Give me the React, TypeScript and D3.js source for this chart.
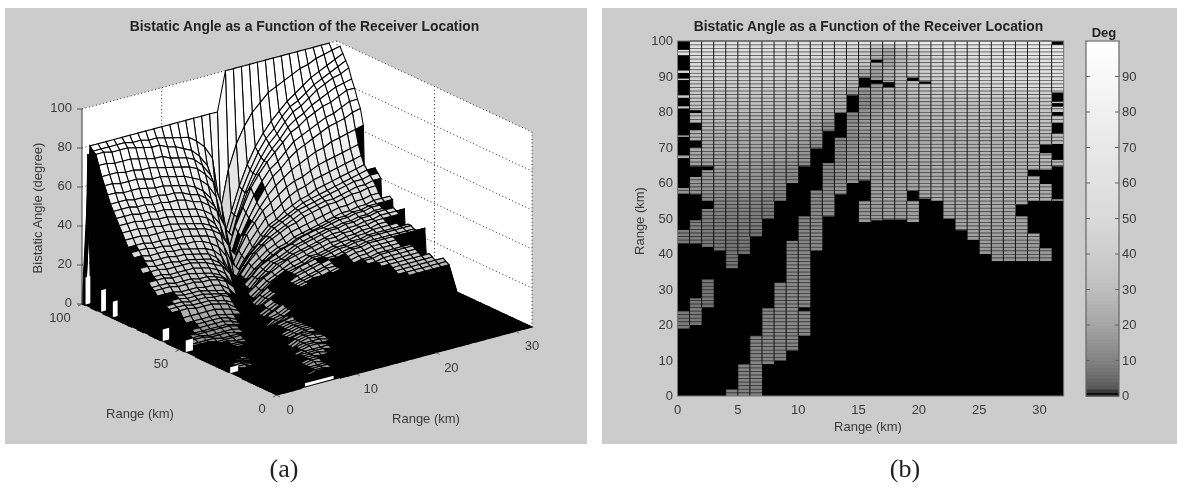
import React from "react";
import * as d3 from "d3";

// ---------- data ----------
const titleText = "Bistatic Angle as a Function of the Receiver Location";
const rangeTicksHeat = [0, 5, 10, 15, 20, 25, 30];
const yTicksHeat = [0, 10, 20, 30, 40, 50, 60, 70, 80, 90, 100];
const barTicks = [0, 10, 20, 30, 40, 50, 60, 70, 80, 90];
const zTicks = [0, 20, 40, 60, 80, 100];
const floorXTicks = [0, 10, 20, 30];
const floorYTicks = [0, 50, 100];

// colour bar: angle -> grey level
const cmapAngle = [0, 1, 2, 5, 10, 20, 30, 40, 50, 60, 70, 80, 90, 100];
const cmapGrey = [0, 30, 85, 105, 130, 165, 190, 205, 218, 225, 232, 240, 248, 255];

// mesh rows in y (km); each row lists the angle at x = 0, 1, 2 ... km
const rowYs = [100,98.5,97,95.5,94,92.5,91,89.5,88,86.5,85,83.5,82,80.5,79,77.5,76,74.5,73,71.5,70,68.5,67,65.5,64,62.5,61,59.5,58,56.5,55,53.5,52,50.5,49,47.5,46,44.5,43,41.5,40,38.5,37,35.5,34,32.5,31,29.5,28,26.5,25,23.5,22,20.5,19,17.5,16,14.5,13,11.5,10,8.5,7,5.5,4,2.5,1,0];
const angleRows = [
[80,80,80,80,80,80,80,80,80,80,80,80,80,80,80,80,80,80,100,100,100,100,100,100,100,100,100,100,100,100,100,100,100],
[79,78,78,78,78,78,77,77,76,76,75,74,73,72,69,65,58,30,50,62,70,76,80,84,86,88,90,92,93,95,96,97,98],
[78,77,77,76,76,76,75,74,73,73,71,70,68,66,62,56,43,16,29,41,51,59,65,70,74,78,81,84,87,89,91,93,95],
[73,72,72,71,71,71,70,69,68,68,66,65,64,62,58,52,40,15,28,40,49,57,63,67,72,76,78,81,84,86,88,90,92],
[68,67,67,67,66,66,65,65,64,63,62,61,60,58,54,49,37,14,28,39,48,55,61,65,70,74,76,79,82,84,86,87,89],
[63,63,63,62,62,62,61,60,60,59,58,57,55,53,49,42,25,20,31,41,48,54,59,63,68,71,73,76,78,80,82,83,84],
[59,59,59,58,58,58,57,56,56,55,54,53,51,48,43,33,12,25,34,43,49,54,58,62,66,68,71,73,75,76,78,80,80],
[55,55,55,55,54,54,53,53,52,52,51,49,48,45,40,31,11,23,32,40,46,51,54,58,62,64,66,68,70,71,73,75,75],
[52,52,52,52,51,51,50,50,49,49,48,46,45,42,38,29,11,22,30,37,43,48,51,55,58,60,62,64,66,67,68,70,71],
[49,49,49,49,48,48,47,47,46,45,44,43,41,38,32,19,14,23,29,35,40,44,47,50,52,54,56,57,59,60,61,62,63],
[46,46,46,46,45,45,44,44,43,42,41,40,38,34,26,9,17,24,29,34,37,40,43,45,46,48,50,51,52,53,54,55,55],
[43,43,43,43,42,42,41,41,40,39,38,37,35,32,24,8,15,21,26,31,33,36,39,41,42,44,45,46,47,48,49,50,50],
[40,40,40,40,39,39,39,38,38,37,36,35,33,30,23,8,14,19,24,28,30,33,35,37,38,40,41,42,43,44,45,46,46],
[37,37,37,37,36,36,36,35,35,34,33,32,30,25,15,10,16,20,24,28,30,32,34,36,37,38,39,40,41,42,43,44,44],
[35,35,35,35,34,34,33,33,32,32,31,29,26,20,7,13,18,22,25,28,30,32,34,35,36,37,38,39,40,41,41,42,42],
[33,33,33,32,32,32,31,31,30,29,28,26,22,13,9,14,19,22,25,27,29,31,33,34,35,36,36,37,38,39,39,40,40],
[31,31,31,30,30,30,29,29,28,27,26,23,18,6,11,16,20,23,25,27,29,30,32,33,34,35,35,36,37,37,38,38,38],
[29,29,29,28,28,28,27,27,26,25,24,21,16,6,10,15,18,21,23,25,27,28,29,30,31,32,33,33,34,34,35,35,35],
[27,27,27,27,26,26,26,26,25,24,22,20,15,6,10,14,17,20,22,23,25,26,27,28,29,30,31,31,32,32,33,33,33],
[25,25,25,25,24,24,24,24,23,22,20,17,10,8,11,15,18,20,22,23,25,26,27,28,29,30,30,31,31,32,32,32,32],
[24,24,24,24,23,23,23,22,21,20,18,14,5,10,13,17,19,21,23,24,26,27,28,28,29,30,30,31,31,32,32,32,32],
[22,22,22,22,21,21,21,20,20,19,17,13,4,9,13,16,19,20,22,24,25,26,27,28,28,29,29,30,30,31,31,32,32],
[21,21,21,21,20,20,20,19,19,18,16,12,4,9,13,16,19,20,22,24,25,26,27,28,28,29,29,30,30,31,31,31,31],
[19,19,19,19,18,18,18,17,17,16,13,8,6,10,14,16,19,20,22,23,24,25,26,27,27,28,28,29,29,30,30,30,30],
[18,18,18,18,17,17,17,16,15,14,10,4,9,12,15,17,19,21,22,23,24,25,26,26,27,27,28,28,29,29,29,29,29],
[17,17,17,17,16,16,16,15,14,13,9,3,8,11,14,16,18,20,21,22,23,24,25,25,26,26,27,27,28,28,28,28,28],
[16,16,16,16,15,15,15,14,14,12,9,3,8,11,14,16,18,19,20,22,22,23,24,25,25,26,26,27,27,27,27,27,27],
[15,15,15,15,14,14,14,13,12,10,6,5,9,12,15,16,18,19,20,22,22,23,24,24,25,25,26,26,26,26,26,26,26],
[14,14,14,14,13,13,13,12,11,8,3,8,11,14,16,17,18,20,21,22,22,23,24,24,25,25,26,26,26,26,26,26,26],
[11,11,11,11,11,11,11,10,9,7,3,8,11,13,15,16,18,19,20,21,22,22,23,24,24,25,25,25,25,25,25,25,25],
[9,9,9,9,9,9,9,8,7,6,2,8,11,13,15,16,18,19,20,21,22,22,23,24,24,25,25,25,25,25,25,25,25],
[8,8,8,8,8,8,8,7,5,4,5,9,11,13,15,16,17,18,19,20,21,21,22,23,23,24,24,24,24,24,24,24,24],
[8,8,7,7,7,7,7,6,4,2,7,10,12,14,15,16,17,18,19,20,20,21,21,22,22,23,23,23,23,23,23,23,23],
[7,7,6,6,6,6,6,5,4,2,7,9,11,13,15,16,17,18,18,19,20,20,20,21,21,22,22,22,22,22,22,22,22],
[7,7,6,6,6,6,6,5,4,1,7,9,11,13,15,16,17,18,18,19,20,20,20,21,21,22,22,22,22,22,22,22,22],
[6,6,6,5,5,5,5,4,3,4,7,9,11,13,14,15,16,17,17,18,19,19,19,20,20,21,21,21,21,21,21,21,21],
[6,6,6,5,5,5,4,3,1,6,8,10,12,13,14,15,16,17,17,18,18,19,19,19,20,20,20,20,20,20,20,20,20],
[5,5,5,5,4,4,4,3,1,5,8,9,11,12,13,14,15,16,16,17,17,18,18,18,19,19,19,19,19,19,19,19,19],
[5,5,5,4,4,4,4,3,1,5,8,9,11,12,13,14,14,15,15,16,16,17,17,17,18,18,18,18,18,18,18,18,18],
[4,4,4,4,4,3,3,2,3,6,8,9,11,12,12,13,13,14,14,15,15,16,16,16,17,17,17,17,17,17,17,17,17],
[4,4,4,4,3,3,2,1,5,7,8,10,11,12,12,13,13,14,14,15,15,15,16,16,16,16,16,16,16,16,16,16,16],
[4,4,3,3,3,3,2,1,6,8,9,10,11,11,11,12,12,13,13,14,14,14,15,15,15,15,15,15,15,15,15,15,15],
[4,4,3,3,3,3,2,1,8,9,10,11,11,11,11,11,12,12,13,13,13,13,14,14,14,14,14,14,14,14,14,14,14],
[4,4,3,3,3,2,2,4,8,9,10,10,10],
[4,4,3,3,3,2,1,6,8,9,10,10,10],
[4,4,4,3,3,2,1,6,8,9,10,10,10],
[5,5,4,3,3,2,1,7,8,9,10,10,9],
[5,5,4,3,2,2,3,6,8,9,10,10,9],
[5,5,5,3,2,1,5,7,8,9,10,10,9],
[5,5,4,3,2,3,5,7,8,9,10,10,9],
[5,5,4,3,1,4,6,7,9,10,10,9,8],
[5,5,4,3,1,4,6,7,9,10,10,9,8],
[5,5,4,2,1,4,6,7,9,10,10,9,8],
[5,5,3,2,2,5,6,7,9,10,9,9,8],
[5,4,3,1,4,6,7,8,9,9,9,8,7],
[4,4,3,1,4,6,7,8,9,9,8,8,7],
[4,3,2,1,4,6,7,8,9,9,8,7,6],
[4,3,2,2,4,6,7,8,8,8,8,7,6],
[3,2,1,3,5,7,8,8,8,8,7,6,5],
[3,2,2,3,5,7,8,8,8,7,7,6,5],
[2,1,3,4,6,7,8,8,7,7,6,5,4],
[2,1,3,4,6,7,8,8,7,6,6,5,4],
[1,1,2,4,6,7,8,8,7,6,5,4,4],
[1,1,2,4,6,7,8,7,7,6,5,4,4],
[1,2,3,5,6,7,7,7,6,5,4,4,3],
[1,2,3,5,6,7,7,7,6,5,4,3,3],
[1,2,3,4,6,7,7,6,5,4,3,3,3],
[1,2,3,4,6,7,7,6,5,4,3,3,3],
];

// y-spans (km) of each 1 km column where the angle is above zero; elsewhere the map is black
const col0 = [[97.5,96],[91.7,91],[89.4,89],[84.7,84],[81.6,81],[73.4,73],[67.8,67],[58.6,57],[46.8,43],[24,19]];
const col1 = [[100,80.5],[79.7,77],[75,72],[70,64.7],[61.7,56.8],[49.5,43],[27.5,20]];
const col2 = [[100,64.7],[63.6,55],[52.7,42],[32.9,25]];
const col3 = [[100,41]];
const col4 = [[100,36],[1.9,0]];
const col5 = [[100,40],[9,0]];
const col6 = [[100,45],[17,0]];
const col7 = [[100,50],[24.7,9]];
const col8 = [[100,55],[32,10]];
const col9 = [[100,60],[43.7,12.8]];
const col10 = [[100,64.7],[50.6,25],[24,17]];
const col11 = [[100,69.7],[58,41]];
const col12 = [[100,74.6],[65.6,50.6]];
const col13 = [[100,79.7],[72.8,56.8]];
const col14 = [[100,84.7],[80,60]];
const col15 = [[100,89.7],[87,60.7],[55,49]];
const col16 = [[100,94.7],[94,89],[88,49.5]];
const col17 = [[100,88.4],[87,49.7]];
const col18 = [[100,49.7]];
const col19 = [[100,89.7],[88.7,57.8],[55,49]];
const col20 = [[100,88.6],[88,55.6]];
const col21 = [[100,55]];
const col22 = [[100,50]];
const col23 = [[100,46.7]];
const col24 = [[100,44]];
const col25 = [[100,40]];
const col26 = [[100,38]];
const col27 = [[100,38]];
const col28 = [[100,54],[50.6,38]];
const col29 = [[100,63.7],[62,55],[45.8,38]];
const col30 = [[100,70.8],[68.4,63.7],[59.7,55],[41.6,38]];
const col31 = [[99,85.5],[83,82.5],[81.5,80],[79,77],[74,71],[66.5,64.7],[55.4,55]];
const grayRuns = [col0,col1,col2,col3,col4,col5,col6,col7,col8,col9,col10,col11,col12,col13,col14,col15,col16,col17,col18,col19,col20,col21,col22,col23,col24,col25,col26,col27,col28,col29,col30,col31];

// small bright slivers on the front edges of the 3-D surface: x, y (km), height (deg), half-width (km)
const sliverX = [0.5, 0.5, 0.5, 0.5, 0.5, 0.5, 5.5];
const sliverY = [99, 91, 85, 59, 47, 24, 0.8];
const sliverH = [14, 11, 8, 6, 6, 3, 1.6];
const sliverW = [0.3, 0.3, 0.3, 0.4, 0.45, 0.5, 1.8];

// ---------- helpers ----------
const font = "'Liberation Sans', Arial, sans-serif";
const ink = "#3a3a3a";
const greyOf = d3.scaleLinear<number>().domain(cmapAngle).range(cmapGrey).clamp(true);
const colorOf = (v: number) => { const g = Math.round(greyOf(v)); return `rgb(${g},${g},${g})`; };

// 3-D projection of the left panel
const ORIGIN: [number, number] = [277, 395];
const px = d3.scaleLinear().domain([0, 32]).range([0, 255]);
const pxUp = d3.scaleLinear().domain([0, 32]).range([0, 68]);
const py = d3.scaleLinear().domain([0, 100]).range([0, 195]);
const pyUp = d3.scaleLinear().domain([0, 100]).range([0, 91]);
const pz = d3.scaleLinear().domain([0, 100]).range([0, 195]);
const project = (x: number, y: number, z: number): [number, number] => [
  ORIGIN[0] + px(x) - py(y),
  ORIGIN[1] - pxUp(x) - pyUp(y) - pz(z),
];
const line3 = (pts: number[][]) => d3.line()(pts.map((p) => project(p[0], p[1], p[2])))!;
const isGray = (col: number, y: number) =>
  col >= 0 && col < 32 && grayRuns[col].some(([t, b]) => y <= t && y >= b);
const surfZ = (xi: number, ri: number) =>
  isGray(xi, rowYs[ri]) || isGray(xi - 1, rowYs[ri]) ? angleRows[ri][xi] ?? 0 : 0;

function Surface() {
  const quads: React.ReactNode[] = [];
  for (let r = 0; r < rowYs.length - 1; r++) {
    const midY = (rowYs[r] + rowYs[r + 1]) / 2;
    for (let x = 31; x >= 0; x--) {
      const c = [[x, r], [x + 1, r], [x + 1, r + 1], [x, r + 1]].map(([a, b]) => ({
        p: project(a, rowYs[b], surfZ(a, b)),
        v: surfZ(a, b),
      }));
      const mean = d3.mean(c, (k) => k.v)!;
      const low = d3.min(c, (k) => k.v)!;
      const fill = isGray(x, midY) && low > 0 ? colorOf(mean * 1.3 + 8) : "#000";
      quads.push(
        <path key={`${r}-${x}`} d={d3.line()(c.map((k) => k.p))! + "Z"} fill={fill} stroke="#000" strokeWidth={1.05} />
      );
    }
  }
  return <g>{quads}</g>;
}

function Panel3D() {
  const wallL = line3([[0,100,0],[0,100,100],[32,100,100],[32,100,0]]) + "Z";
  const wallR = line3([[32,100,0],[32,100,100],[32,0,100],[32,0,0]]) + "Z";
  const floor = line3([[0,0,0],[32,0,0],[32,100,0],[0,100,0]]) + "Z";
  // black backing along the left edge so that gaps in the surface stay black
  const curtainRows = rowYs.filter((y) => y >= 40);
  const curtain =
    line3([
      ...curtainRows.map((y, i) => [1, y, (angleRows[i][1] ?? 0) * 0.8]),
      [1, curtainRows[curtainRows.length - 1], 0],
      [1, 100, 0],
    ]) + "Z";
  const dot = { stroke: "#222", strokeWidth: 1, strokeDasharray: "1 2.6", fill: "none" };
  return (
    <g>
      <rect x={5} y={8} width={582} height={436} fill="#cccccc" />
      <path d={wallL} fill="#fff" />
      <path d={wallR} fill="#fff" />
      <path d={floor} fill="#000" />
      {zTicks.slice(1, -1).map((z) => (
        <path key={z} d={line3([[0,100,z],[32,100,z],[32,0,z]])} {...dot} />
      ))}
      {[10, 20, 30].map((x) => <path key={x} d={line3([[x,100,0],[x,100,100]])} {...dot} />)}
      {[50].map((y) => <path key={y} d={line3([[32,y,0],[32,y,100]])} {...dot} />)}
      <path d={line3([[0,100,100],[32,100,100],[32,0,100],[32,0,0]])} {...dot} />
      <path d={line3([[32,100,0],[32,100,100]])} {...dot} />
      <path d={curtain} fill="#000" />
      <Surface />
      {sliverX.map((x, i) => (
        <path
          key={i}
          d={line3([[x - sliverW[i], sliverY[i], 0],[x + sliverW[i], sliverY[i], 0],[x + sliverW[i], sliverY[i], sliverH[i]],[x - sliverW[i], sliverY[i], sliverH[i]]]) + "Z"}
          fill="#fff"
        />
      ))}
      <path d={line3([[0,100,0],[0,100,100]])} stroke="#555" strokeWidth={1.2} fill="none" />
      {zTicks.map((z) => {
        const [a, b] = project(0, 100, z);
        return (
          <g key={z}>
            <line x1={a - 5} x2={a} y1={b} y2={b} stroke="#555" />
            <text x={a - 10} y={b + 3} textAnchor="end" fontSize={13} fill={ink}>{z}</text>
          </g>
        );
      })}
      {floorXTicks.map((x) => {
        const [a, b] = project(x, 0, 0);
        return (
          <g key={x}>
            <line x1={a} x2={a + 3} y1={b} y2={b + 2} stroke="#555" />
            <text x={a + 13 + x * 0.1} y={b + 19} textAnchor="middle" fontSize={13} fill={ink}>{x}</text>
          </g>
        );
      })}
      {floorYTicks.map((y) => {
        const [a, b] = project(0, y, 0);
        return (
          <g key={y}>
            <line x1={a} x2={a - 4} y1={b} y2={b + 2} stroke="#555" />
            <text x={a - 15 - y * 0.07} y={b + 18} textAnchor="middle" fontSize={13} fill={ink}>{y}</text>
          </g>
        );
      })}
      <text x={304.5} y={31} textAnchor="middle" fontSize={13.85} fontWeight="bold" fill="#222">{titleText}</text>
      <text x={140} y={418} textAnchor="middle" fontSize={13} fill={ink}>Range (km)</text>
      <text x={426} y={423} textAnchor="middle" fontSize={13} fill={ink}>Range (km)</text>
      <text transform="translate(42,208) rotate(-90)" textAnchor="middle" fontSize={13} fill={ink}>Bistatic Angle (degree)</text>
    </g>
  );
}

// heat map scales
const hx = d3.scaleLinear().domain([0, 32]).range([677.5, 1063.7]);
const hy = d3.scaleLinear().domain([0, 100]).range([396, 41]);
const by = d3.scaleLinear().domain([0, 100]).range([396, 41]);

function Heat() {
  const cells: React.ReactNode[] = [];
  grayRuns.forEach((runs, c) => {
    runs.forEach(([t, b], k) => {
      for (let y0 = Math.floor(b); y0 < Math.ceil(t); y0++) {
        const lo = Math.max(y0, b), hi = Math.min(y0 + 1, t);
        const mid = (lo + hi) / 2;
        const ri = d3.leastIndex(rowYs, (a, e) => Math.abs(a - mid) - Math.abs(e - mid))!;
        const v = ((angleRows[ri][c] ?? 0) + (angleRows[ri][c + 1] ?? angleRows[ri][c] ?? 0)) / 2;
        cells.push(
          <rect key={`${c}-${k}-${y0}`} x={hx(c)} width={hx(c + 1) - hx(c)} y={hy(hi)} height={Math.max(0.6, hy(lo) - hy(hi))} fill={colorOf(v * 0.7 + 5)} />,
          <line key={`l${c}-${k}-${y0}`} x1={hx(c)} x2={hx(c + 1)} y1={hy(y0 + 1)} y2={hy(y0 + 1)} stroke="#000" strokeOpacity={0.6} strokeWidth={1.5} />
        );
      }
      cells.push(<line key={`v${c}-${k}`} x1={hx(c)} x2={hx(c)} y1={hy(t)} y2={hy(b)} stroke="#000" strokeOpacity={0.8} strokeWidth={1} />);
    });
  });
  return <g>{cells}</g>;
}

function Panel2D() {
  const barSteps = d3.range(0, 100, 1);
  return (
    <g>
      <rect x={602} y={8} width={575} height={436} fill="#cccccc" />
      <rect x={hx(0)} y={hy(100)} width={hx(32) - hx(0)} height={hy(0) - hy(100)} fill="#000" />
      <Heat />
      <rect x={hx(0)} y={hy(100)} width={hx(32) - hx(0)} height={hy(0) - hy(100)} fill="none" stroke="#777" />
      {yTicksHeat.map((v) => <text key={v} x={673} y={hy(v) + 4} textAnchor="end" fontSize={13} fill={ink}>{v}</text>)}
      {rangeTicksHeat.map((v) => <text key={v} x={hx(v)} y={414} textAnchor="middle" fontSize={13} fill={ink}>{v}</text>)}
      <text x={868} y={431} textAnchor="middle" fontSize={13} fill={ink}>Range (km)</text>
      <text transform="translate(644,221) rotate(-90)" textAnchor="middle" fontSize={13} fill={ink}>Range (km)</text>
      <text x={868.5} y={31} textAnchor="middle" fontSize={13.85} fontWeight="bold" fill="#222">{titleText}</text>
      {barSteps.map((v) => (
        <rect key={v} x={1086} width={33} y={by(v + 1) - 0.5} height={by(v) - by(v + 1) + 1} fill={colorOf(v + 0.5)} />
      ))}
      <rect x={1086} y={41} width={33} height={355} fill="none" stroke="#666" strokeWidth={1.2} />
      {barTicks.map((v) => (
        <g key={v}>
          {v > 0 && <line x1={1086} x2={1090} y1={by(v)} y2={by(v)} stroke="#666" />}
          {v > 0 && <line x1={1119} x2={1115} y1={by(v)} y2={by(v)} stroke="#666" />}
          <text x={1122} y={by(v) + 4} fontSize={13} fill={ink}>{v}</text>
        </g>
      ))}
      <text x={1104} y={37} textAnchor="middle" fontSize={13} fontWeight="bold" fill="#222">Deg</text>
    </g>
  );
}

export default function App() {
  return (
    <svg
      width={1177}
      height={487}
      viewBox="0 0 1177 487"
      fontFamily={font}
      style={{ position: "absolute", left: 0, top: 0, display: "block", filter: "blur(0.55px)" }}
    >
      <rect width={1177} height={487} fill="#fff" />
      <Panel3D />
      <Panel2D />
      <text x={284} y={477} textAnchor="middle" fontSize={26} fontFamily="'Liberation Serif', serif" fill="#222">(a)</text>
      <text x={905} y={477} textAnchor="middle" fontSize={26} fontFamily="'Liberation Serif', serif" fill="#222">(b)</text>
    </svg>
  );
}
